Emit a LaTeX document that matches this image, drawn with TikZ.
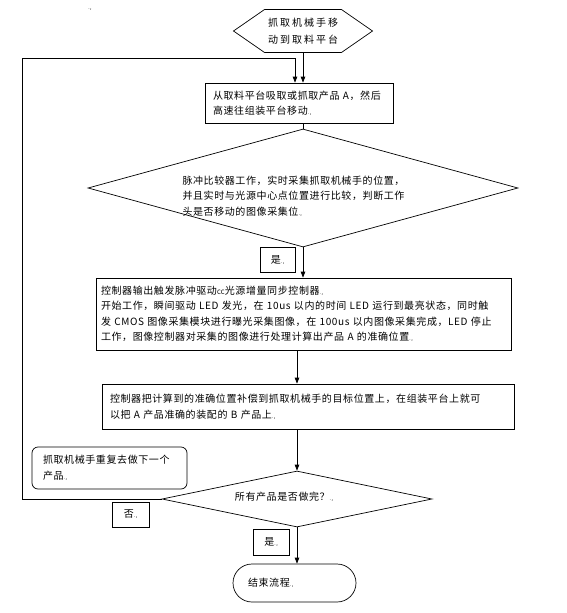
\documentclass[tikz,border=0pt]{standalone}
\usepackage{fontspec}
\setmainfont{Noto Sans CJK SC}[LetterSpace=6]
\usepackage{tikz}
\usetikzlibrary{shapes.geometric, shapes.symbols, arrows.meta, positioning, calc}

\newcommand{\pmk}{{\tiny.\kern.6pt,}}

\begin{document}
\begin{tikzpicture}[
    x=1pt, y=-1pt,
    line width=0.7pt,
    font=\fontsize{10}{15.5}\selectfont,
    proc/.style={rectangle, draw, align=left, inner ysep=0pt, text width=#1},
    decide/.style={diamond, draw, inner sep=0pt, align=left},
    lbl/.style={rectangle, draw, minimum width=36pt, minimum height=25pt, inner sep=0pt},
    arrow/.style={-{Triangle[length=6pt, width=4.5pt]}},
]
\useasboundingbox (0,0) rectangle (566,613);

% Start
\node[font=\tiny] (mark) at (90,10) {.,};
\node[signal, signal to=west and east, signal pointer angle=69.4, draw,
      minimum width=139pt, minimum height=43pt, inner sep=1pt, align=center,
      font=\fontsize{10}{17}\selectfont\addfontfeature{LetterSpace=20}] (start) at (303,31) {抓取机械手移\\动到取料平台};

% Pick up and move
\node[proc=172pt, inner xsep=8pt, minimum height=40pt] (pick) at (299,103) {从取料平台吸取或抓取产品 A，然后\\高速往组装平台移动\pmk};

% Compare position
\node[decide, minimum width=430pt, minimum height=118pt] (cmp) at (303,188) {};
\node[align=left, text width=235pt, inner sep=0pt] (cmptext) at (300,196) {脉冲比较器工作，实时采集抓取机械手的位置，\\并且实时与光源中心点位置进行比较，判断工作\\头是否移动的图像采集位\pmk};
\node[lbl, minimum width=35pt] (yes1) at (277.5,259.5) {是\pmk};

% Trigger light source and capture
\node[proc=405pt, inner xsep=5pt, minimum height=72pt] (snap) at (303.5,314) {控制器输出触发脉冲驱动{\fontsize{6}{6}\selectfont CC}光源增量同步控制器\pmk\\
开始工作，瞬间驱动 LED 发光，在 10us 以内的时间 LED 运行到最亮状态，同时触\\
发 CMOS 图像采集模块进行曝光采集图像，在 100us 以内图像采集完成，LED 停止\\
工作，图像控制器对采集的图像进行处理计算出产品 A 的准确位置\pmk};

% Compensate and assemble
\node[proc=396pt, inner xsep=8pt, minimum height=45pt] (fix) at (308,406.5) {控制器把计算到的准确位置补偿到抓取机械手的目标位置上，在组装平台上就可\\以把 A 产品准确的装配的 B 产品上\pmk};

% All done?
\node[proc=133pt, inner xsep=11pt, minimum height=42pt, rounded corners=6pt] (again) at (109.5,468) {抓取机械手重复去做下一个\\产品\pmk};
\node[decide, minimum width=270pt, minimum height=56pt] (done) at (297,499) {};
\node[inner sep=0pt] (donetext) at (284,497) {所有产品是否做完？\pmk};
\node[lbl, minimum width=37pt] (no) at (130.5,514.5) {否\pmk};
\node[lbl, minimum height=26pt] (yes2) at (271,542) {是\pmk};

% End
\node[proc=93pt, inner xsep=15pt, minimum height=38pt, rounded corners=19pt] (stop) at (294.5,583) {结束流程\pmk};

\coordinate (loopB) at (22,499);
\coordinate (loopT) at (22,58);

\draw[arrow] (start.south) -- (start.south |- pick.north);
\draw (cmp.north |- pick.south) -- (cmp.north);
\draw[arrow] (cmp.south) -- (cmp.south |- snap.north);
\draw[arrow] (done.north |- snap.south) -- (done.north |- fix.north);
\draw[arrow] (done.north |- fix.south) -- (done.north);
\draw[arrow] (done.south) -- (done.south |- stop.north);
\draw[arrow] (done.west) -- (loopB) -- (loopT) -| ([xshift=-4pt]pick.north);

\end{tikzpicture}
\end{document}
